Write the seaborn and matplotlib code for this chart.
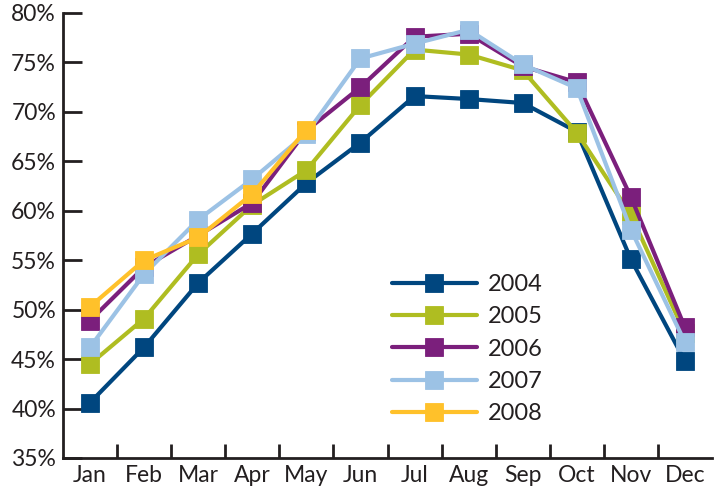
import matplotlib
matplotlib.use("Agg")
import matplotlib.pyplot as plt
from matplotlib.ticker import FixedLocator, FuncFormatter
import numpy as np
import pandas as pd
import seaborn as sns

months = ["Jan", "Feb", "Mar", "Apr", "May", "Jun", "Jul", "Aug", "Sep", "Oct", "Nov", "Dec"]
years = ["2004", "2005", "2006", "2007", "2008"]
y2004 = [40.6, 46.2, 52.7, 57.7, 62.8, 66.9, 71.6, 71.3, 70.9, 68.0, 55.1, 44.8]
y2005 = [44.5, 49.1, 55.6, 60.6, 64.1, 70.7, 76.3, 75.8, 74.2, 67.9, 59.6, 47.6]
y2006 = [48.9, 54.3, 57.5, 60.8, 68.1, 72.5, 77.6, 77.9, 74.6, 73.0, 61.4, 48.2]
y2007 = [46.2, 53.6, 59.1, 63.2, 67.8, 75.4, 76.9, 78.3, 74.8, 72.4, 58.1, 46.7]
y2008 = [50.3, 55.0, 57.3, 61.7, 68.2, np.nan, np.nan, np.nan, np.nan, np.nan, np.nan, np.nan]
colors = ["#00467f", "#afbd21", "#7b1f7c", "#9cc2e5", "#ffc12a"]

series = [y2004, y2005, y2006, y2007, y2008]
x = np.arange(len(months))

sns.set_style("white")
plt.rcParams['font.family'] = ['Lato', 'DejaVu Sans']
ink = "#231f20"

fig = plt.figure(figsize=(7.14, 4.94), dpi=100)
ax = fig.add_axes([63/714, 1-458/494, 649/714, 445/494])

for yr, vals, c in zip(years, series, colors):
    df = pd.DataFrame({"month": x, "pct": vals}).dropna()
    sns.lineplot(data=df, x="month", y="pct", ax=ax, color=c, label=yr,
                 marker="s", markersize=13, linewidth=3,
                 markeredgewidth=0.6, markeredgecolor=c)

ax.set_xlim(-0.5, 11.5)
ax.set_ylim(35, 80)
ax.set_xlabel("")
ax.set_ylabel("")

ax.set_yticks(np.arange(35, 81, 5))
ax.yaxis.set_major_formatter(FuncFormatter(lambda v, p: "%d%%" % v))
ax.set_xticks(x)
ax.set_xticklabels(months)
ax.xaxis.set_minor_locator(FixedLocator(np.arange(0.5, 11, 1)))

ax.tick_params(axis="y", direction="in", length=14, width=2, color=ink,
               labelsize=16.5, labelcolor=ink, pad=5, left=True)
ax.tick_params(axis="x", which="major", length=0, labelsize=16.5,
               labelcolor=ink, pad=5)
ax.tick_params(axis="x", which="minor", direction="in", length=10,
               width=2, color=ink, bottom=True)

for s in ["top", "right"]:
    ax.spines[s].set_visible(False)
for s in ["left", "bottom"]:
    ax.spines[s].set_linewidth(2)
    ax.spines[s].set_color(ink)

leg = ax.legend(loc="upper left", bbox_to_anchor=(0.492, 0.435), frameon=False,
                fontsize=17, handlelength=3.6, labelspacing=0.48,
                handletextpad=0.45, borderaxespad=0)
for t in leg.get_texts():
    t.set_color(ink)

fig.savefig("out.png", dpi=100)
